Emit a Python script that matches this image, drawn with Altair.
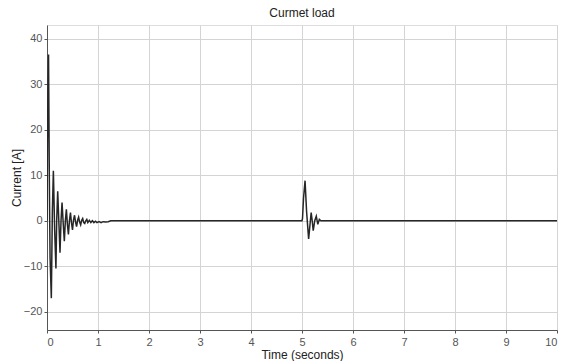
import altair as alt
import pandas as pd

# Time (s) and current (A)
t_start = [0.0, 0.01, 0.02, 0.03, 0.045, 0.06, 0.085, 0.105, 0.125, 0.15, 0.175, 0.19,
           0.21, 0.235, 0.255, 0.275, 0.295, 0.32, 0.34, 0.36, 0.38, 0.40, 0.42,
           0.44, 0.46, 0.48, 0.50, 0.52, 0.54, 0.56, 0.58, 0.60, 0.62, 0.64, 0.66,
           0.68, 0.70, 0.72, 0.74, 0.76, 0.78, 0.80, 0.83, 0.86, 0.89, 0.92, 0.95,
           0.98, 1.02, 1.06, 1.10, 1.15, 1.20, 1.25]
i_start = [0.0, 18.0, 30.0, 36.5, 10.0, -8.0, -17.0, 2.0, 11.0, -2.0, -10.5, 0.0,
           6.5, -1.0, -7.0, 0.0, 4.0, -1.0, -4.5, 0.0, 2.5, -0.8, -3.0, 0.0,
           1.8, -0.5, -2.0, 0.2, 1.2, -0.3, -1.3, 0.1, 0.8, -0.3, -0.9, 0.1,
           0.5, -0.4, -0.6, 0.0, 0.3, -0.4, 0.1, -0.4, 0.0, -0.4, -0.1, -0.4,
           -0.2, -0.4, -0.2, -0.3, -0.2, 0.0]
t_event = [1.3, 5.0, 5.01, 5.03, 5.06, 5.09, 5.13, 5.16, 5.18, 5.20, 5.22, 5.25,
           5.28, 5.31, 5.34, 5.37, 10.0]
i_event = [0.0, 0.0, 0.5, 5.0, 8.8, 2.0, -4.0, -0.5, 1.8, 0.0, -2.2, 0.0,
           1.0, -0.8, 0.3, 0.0, 0.0]

x_ticks = [0, 1, 2, 3, 4, 5, 6, 7, 8, 9, 10]
y_ticks = [-20, -10, 0, 10, 20, 30, 40]

df = pd.DataFrame({"t": t_start + t_event, "i": i_start + i_event})

font = "Liberation Sans"

chart = (
    alt.Chart(df)
    .mark_line(color="#262626", strokeWidth=1.5, clip=True)
    .encode(
        x=alt.X(
            "t:Q",
            scale=alt.Scale(domain=[0, 10], nice=False),
            axis=alt.Axis(
                values=x_ticks,
                title="Time (seconds)",
                format="d",
                labelFont=font,
                labelFontSize=11,
                labelColor="#555555",
                titleFont=font,
                titleFontSize=12,
                titleFontWeight="normal",
                titleColor="#222222",
                titlePadding=2,
                domainColor="#555555",
                tickColor="#555555",
                tickSize=3,
                labelPadding=3,
                gridColor="#d4d4d4",
                gridWidth=1,
            ),
        ),
        y=alt.Y(
            "i:Q",
            scale=alt.Scale(domain=[-24, 43], nice=False, zero=False),
            axis=alt.Axis(
                values=y_ticks,
                title="Current [A]",
                labelFont=font,
                labelFontSize=11,
                labelColor="#555555",
                titleFont=font,
                titleFontSize=12,
                titleFontWeight="normal",
                titleColor="#222222",
                titlePadding=0,
                domainColor="#555555",
                tickColor="#555555",
                tickSize=3,
                labelPadding=2,
                gridColor="#d4d4d4",
                gridWidth=1,
            ),
        ),
    )
    .properties(
        width=510,
        height=305,
        title=alt.TitleParams(
            "Curmet load",
            font=font,
            fontSize=12,
            fontWeight="normal",
            color="#222222",
            offset=5,
        ),
        autosize=alt.AutoSizeParams(type="none"),
        padding={"left": 47, "top": 25, "right": 9, "bottom": 31},
    )
    .configure_view(stroke="#555555", strokeWidth=1)
    .configure(background="white")
)

chart.save("out.html", embed_options={"renderer": "svg", "actions": False})
